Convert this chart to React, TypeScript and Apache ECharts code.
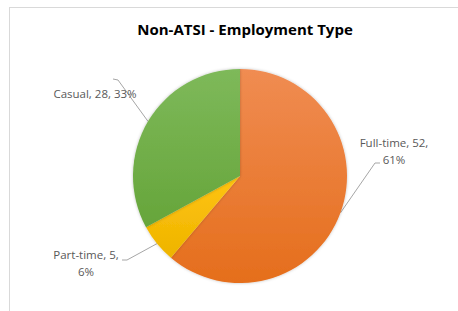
import React, { useEffect, useRef } from "react";
import * as echarts from "echarts";

const title = "Non-ATSI - Employment Type";
const categories = ["Full-time", "Part-time", "Casual"];
const values = [52, 5, 28];
const topColors = ["#F08C52", "#FFC410", "#7EB95A"];
const bottomColors = ["#E56E1C", "#EEB400", "#66A53A"];
const twoLine = [true, true, false];

// label placement (label centre, leader-line bend and end) per slice
const labelCentres = [[394, 151], [86, 263], [95, 93]];
const leaderBends = [[375, 163], [127, 260], [118, 80]];
const leaderEnds = [[380, 163], [122, 260], [113, 79]];

export default function App() {
  const ref = useRef<HTMLDivElement>(null);
  useEffect(() => {
    if (!ref.current) return;
    const chart = echarts.init(ref.current, undefined, { renderer: "svg" });
    const data = categories.map((name, i) => ({
      name,
      value: values[i],
      itemStyle: {
        color: new echarts.graphic.LinearGradient(0, 0, 0, 1, [
          { offset: 0, color: topColors[i] },
          { offset: 1, color: bottomColors[i] },
        ]),
      },
      label: {
        formatter: twoLine[i] ? "{b}, {c},\n{d}%" : "{b}, {c}, {d}%",
      },
    }));
    chart.setOption({
      animation: false,
      backgroundColor: "#ffffff",
      title: {
        text: title,
        left: 240,
        textAlign: "center",
        top: 16,
        textStyle: {
          fontFamily: "Open Sans",
          fontWeight: "bold",
          fontSize: 15,
          color: "#000000",
        },
      },
      graphic: [
        {
          type: "line",
          shape: { x1: 9.5, y1: 7, x2: 9.5, y2: 311 },
          style: { stroke: "#D9D9D9", lineWidth: 1 },
        },
        {
          type: "line",
          shape: { x1: 9, y1: 7.5, x2: 458, y2: 7.5 },
          style: { stroke: "#D9D9D9", lineWidth: 1 },
        },
      ],
      series: [
        {
          type: "pie",
          center: [240, 176],
          radius: 107,
          startAngle: 90,
          clockwise: true,
          percentPrecision: 0,
          data,
          itemStyle: {
            borderWidth: 0,
            shadowBlur: 3,
            shadowColor: "rgba(0,0,0,0.25)",
          },
          label: {
            show: true,
            position: "outside",
            fontFamily: "Open Sans",
            fontSize: 11.5,
            color: "#595959",
            lineHeight: 17,
            align: "center",
          },
          labelLine: {
            show: true,
            length: 10,
            length2: 5,
            lineStyle: { color: "#A6A6A6", width: 1 },
          },
          labelLayout: (params: any) => {
            const i = params.dataIndex;
            const start = params.labelLinePoints
              ? params.labelLinePoints[0]
              : leaderBends[i];
            return {
              x: labelCentres[i][0],
              y: labelCentres[i][1],
              align: "center",
              verticalAlign: "middle",
              labelLinePoints: [start, leaderBends[i], leaderEnds[i]],
            };
          },
        },
      ],
    });
    return () => chart.dispose();
  }, []);
  return (
    <div
      ref={ref}
      style={{ position: "fixed", left: 0, top: 0, width: 458, height: 311 }}
    />
  );
}
